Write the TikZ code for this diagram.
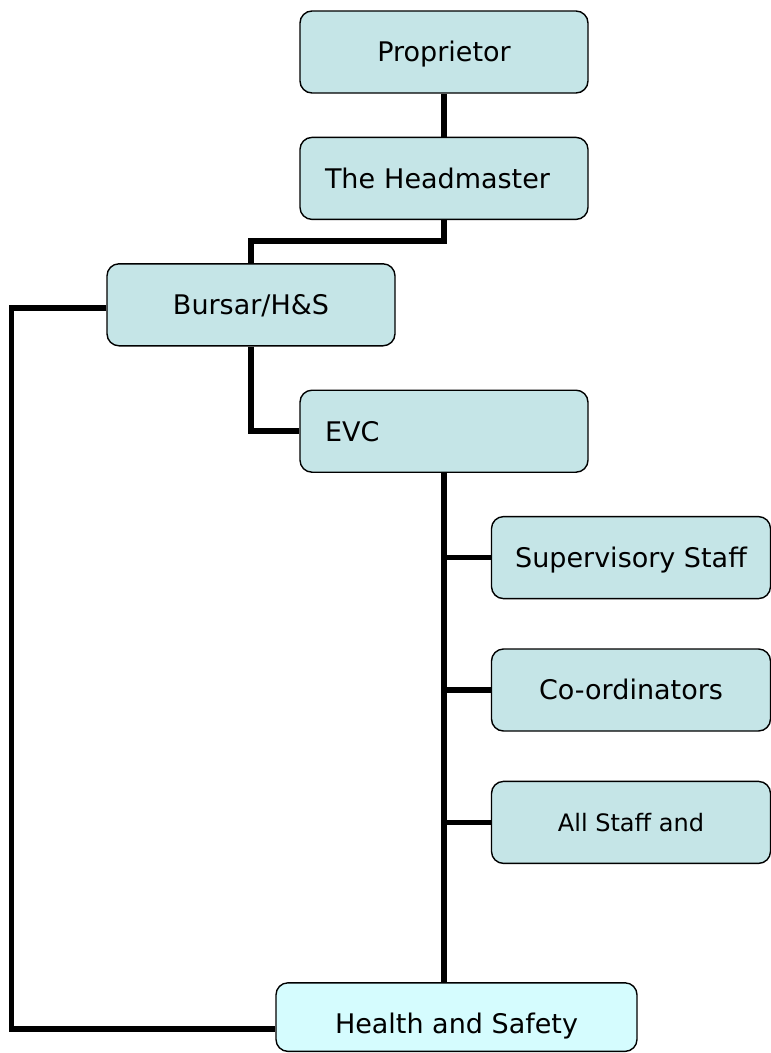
\documentclass[tikz,border=0pt]{standalone}
\usepackage{fontspec}
\setmainfont{DejaVu Sans}
\usepackage{tikz}
\usetikzlibrary{positioning}

\definecolor{boxfill}{HTML}{C5E5E7}
\definecolor{hsfill}{HTML}{D5FCFE}

\begin{document}
\begin{tikzpicture}[
    x=1pt, y=1pt,
    node distance=43pt,
    every node/.style={font=\fontsize{27}{32}\selectfont},
    unit/.style={rectangle, rounded corners=12pt, draw=black, fill=boxfill,
        line width=1.4pt, minimum width=288pt, minimum height=82pt, align=center,
        text height=22pt, text depth=2.3pt},
    leftunit/.style={unit, text width=238pt, inner xsep=25pt, align=left},
    staff/.style={unit, minimum width=279pt},
    link/.style={line width=5.5pt}
]
\useasboundingbox (0,0) rectangle (771,-1053);

% Vertici
\node[unit] (prop) at (444,-52) {Proprietor};
\node[leftunit, below=of prop] (head) {The Headmaster};
\node[unit, below=of head, xshift=-193pt] (bursar) {Bursar/H\&S};
\node[leftunit, below=of bursar, xshift=193pt] (evc) {EVC};

% Staff
\node[staff, below=of evc, xshift=187pt] (sup) {Supervisory Staff};
\node[staff, below=49pt of sup] (coord) {Co-ordinators};
\node[staff, below=49pt of coord, font=\fontsize{24}{29}\selectfont,
    text height=20pt, text depth=2.5pt] (all) {All Staff and};

% Fondo
\node[unit, fill=hsfill, minimum width=361pt, minimum height=68.6pt,
    text height=36pt, text depth=2.3pt,
    below=118pt of all, xshift=-174.5pt] (hs) {Health and Safety};

% Collegamenti
\draw[link] (prop) -- (head);
\draw[link] (head.south) -- ++(0,-21) -| (bursar);
\draw[link] (bursar) |- (evc);
\draw[link] (evc) -- (evc.south |- hs.north);
\draw[link] (evc.south |- sup) -- (sup);
\draw[link] (evc.south |- coord) -- (coord);
\draw[link] (evc.south |- all) -- (all);
\draw[link] ([yshift=-3pt]bursar.west) -- ++(-95,0) |- ([yshift=-12pt]hs.west);

\end{tikzpicture}
\end{document}
